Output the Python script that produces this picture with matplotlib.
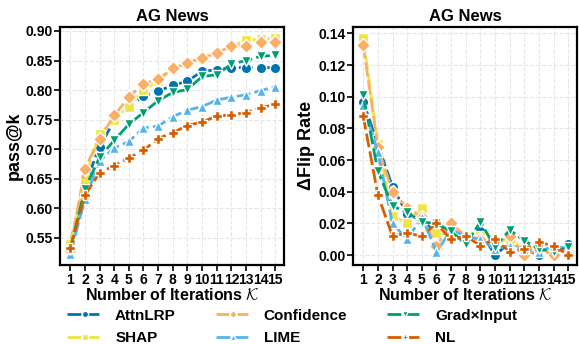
import matplotlib.pyplot as plt
import numpy as np

plt.rcParams['font.family'] = ['Liberation Sans', 'DejaVu Sans']
plt.rcParams['font.weight'] = 'bold'
plt.rcParams['mathtext.fontset'] = 'cm'

iters = list(range(1, 16))

# pass@k per iteration
pass_attnlrp = [0.540, 0.640, 0.704, 0.748, 0.770, 0.790, 0.798, 0.808, 0.815, 0.832, 0.834, 0.838, 0.838, 0.838, 0.838]
pass_shap = [0.540, 0.650, 0.726, 0.750, 0.772, 0.800, 0.815, 0.836, 0.845, 0.855, 0.862, 0.875, 0.884, 0.886, 0.888]
pass_conf = [0.530, 0.667, 0.718, 0.757, 0.788, 0.811, 0.818, 0.837, 0.845, 0.855, 0.862, 0.875, 0.875, 0.881, 0.881]
pass_lime = [0.523, 0.615, 0.680, 0.702, 0.713, 0.736, 0.739, 0.755, 0.766, 0.772, 0.783, 0.788, 0.792, 0.799, 0.806]
pass_grad = [0.530, 0.633, 0.686, 0.715, 0.742, 0.762, 0.782, 0.796, 0.801, 0.823, 0.826, 0.844, 0.850, 0.857, 0.859]
pass_nl = [0.532, 0.622, 0.660, 0.672, 0.685, 0.698, 0.718, 0.728, 0.740, 0.746, 0.756, 0.758, 0.762, 0.770, 0.776]

# delta flip rate per iteration
flip_attnlrp = [0.097, 0.070, 0.043, 0.026, 0.022, 0.014, 0.014, 0.012, 0.015, 0.000, 0.008, 0.004, 0.000, 0.004, 0.007]
flip_shap = [0.137, 0.070, 0.025, 0.020, 0.030, 0.014, 0.014, 0.012, 0.012, 0.008, 0.010, 0.004, 0.003, 0.002, 0.002]
flip_conf = [0.133, 0.068, 0.040, 0.030, 0.024, 0.006, 0.020, 0.012, 0.010, 0.008, 0.012, 0.000, 0.004, 0.000, 0.002]
flip_lime = [0.095, 0.065, 0.020, 0.010, 0.024, 0.002, 0.016, 0.012, 0.010, 0.004, 0.006, 0.004, 0.002, 0.006, 0.004]
flip_grad = [0.101, 0.053, 0.031, 0.027, 0.021, 0.020, 0.015, 0.007, 0.021, 0.005, 0.016, 0.009, 0.004, 0.002, 0.005]
flip_nl = [0.088, 0.038, 0.012, 0.014, 0.012, 0.020, 0.010, 0.012, 0.006, 0.010, 0.002, 0.004, 0.008, 0.006, 0.000]

names = ['AttnLRP', 'SHAP', 'Confidence', 'LIME', 'Grad×Input', 'NL']
colors = ['#0072B2', '#F0E442', '#FBAE66', '#56B4E9', '#009E73', '#D55E00']
markers = ['o', 's', 'D', '^', 'v', 'P']
pass_all = [pass_attnlrp, pass_shap, pass_conf, pass_lime, pass_grad, pass_nl]
flip_all = [flip_attnlrp, flip_shap, flip_conf, flip_lime, flip_grad, flip_nl]

fig, axes = plt.subplots(1, 2, figsize=(5.79, 3.44), dpi=100)
fig.subplots_adjust(left=0.1036, right=0.9965, top=0.922, bottom=0.2297, wspace=0.308)


def draw(ax, series, ylabel, yticks):
    for name, c, m, ys in zip(names, colors, markers, series):
        ax.plot(iters, ys, color=c, marker=m, markersize=7.5, linewidth=2,
                dashes=(5, 1.5), markeredgecolor='white', markeredgewidth=1.0,
                label=name)
    ax.set_title('AG News', fontsize=12, fontweight='bold', pad=4)
    ax.set_xlabel(r'Number of Iterations $\mathcal{K}$', fontsize=11.5, fontweight='bold', labelpad=0)
    ax.set_ylabel(ylabel, fontsize=13, fontweight='bold', labelpad=2)
    ax.set_xticks(iters)
    ax.set_yticks(yticks)
    ax.set_xlim(0.3, 15.59)
    ax.grid(True, linestyle='--', color='#e6e6e6', linewidth=0.8)
    ax.set_axisbelow(True)
    for s in ax.spines.values():
        s.set_linewidth(1.6)
    ax.tick_params(axis='both', labelsize=10, width=1.2, length=4, pad=1.5)
    for lab in ax.get_xticklabels() + ax.get_yticklabels():
        lab.set_fontweight('bold')


draw(axes[0], pass_all, 'pass@k', np.arange(0.55, 0.901, 0.05))
axes[0].set_ylim(0.504, 0.907)
axes[0].yaxis.set_major_formatter(plt.FormatStrFormatter('%.2f'))
draw(axes[1], flip_all, 'ΔFlip Rate', np.arange(0.0, 0.141, 0.02))
axes[1].set_ylim(-0.0062, 0.1442)
axes[1].yaxis.set_major_formatter(plt.FormatStrFormatter('%.2f'))

handles, labels = axes[0].get_legend_handles_labels()
fig.legend(handles, labels, loc='upper left', ncol=3, bbox_to_anchor=(0.1157, 0.103),
           frameon=False, prop={'weight': 'bold', 'size': 11}, markerscale=0.6,
           borderpad=0, borderaxespad=0,
           handlelength=2.3, columnspacing=2.6, labelspacing=0.55, handletextpad=0.85)

plt.savefig('out.png', dpi=100)
